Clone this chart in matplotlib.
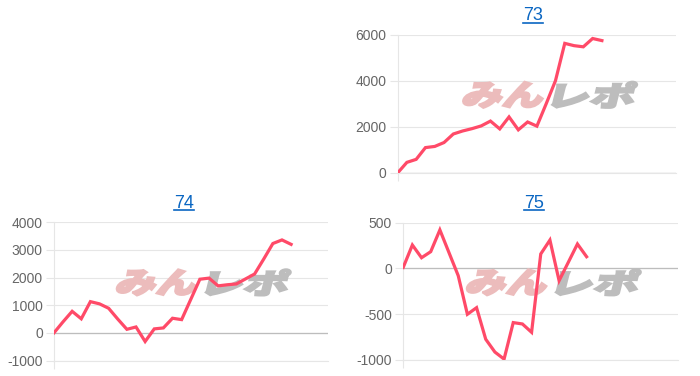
import matplotlib
matplotlib.use("Agg")
import matplotlib.pyplot as plt
from matplotlib.textpath import TextPath
from matplotlib.patches import PathPatch
from matplotlib.font_manager import FontProperties
from matplotlib.transforms import Affine2D, IdentityTransform
from matplotlib.lines import Line2D

# --- data ---
n_labels = 31
titles = ["73", "74", "75"]
diff_73 = [0, 460, 590, 1100, 1150, 1320, 1690, 1820, 1920, 2040, 2250, 1910,
           2430, 1870, 2210, 2030, 3000, 4000, 5620, 5520, 5470, 5830, 5740]
diff_74 = [0, 400, 780, 510, 1130, 1050, 890, 500, 130, 215, -310, 145, 180,
           530, 480, 1210, 1940, 1980, 1700, 1740, 1770, 1950, 2130, 2670,
           3230, 3360, 3200]
diff_75 = [10, 255, 116, 182, 420, 170, -80, -502, -430, -775, -915, -992,
           -593, -608, -699, 157, 309, -135, 65, 266, 127]
yticks_73 = [0, 2000, 4000, 6000]
yticks_74 = [-1000, 0, 1000, 2000, 3000, 4000]
yticks_75 = [-1000, -500, 0, 500]

line_color = "#ff4a68"
grid_color = "#e6e6e6"
label_color = "#666666"
font = "Liberation Sans"

fig = plt.figure(figsize=(7, 3.76), dpi=100)

# axes boxes (fig fraction) and title centres (pixels from top-left)
charts = [
    (titles[0], diff_73, yticks_73, [0.568, 0.540, 0.398, 0.368], (533, 16)),
    (titles[1], diff_74, yticks_74, [0.077, 0.041, 0.391, 0.368], (184, 203)),
    (titles[2], diff_75, yticks_75, [0.576, 0.043, 0.393, 0.365], (534, 203)),
]

wm_font = FontProperties(family="Noto Sans CJK JP", weight="heavy")


def watermark(ax):
    cx, cy = ax.transAxes.transform((0.545, 0.565))
    parts = [("みん", "#ecbcbc", -84, 79), ("レポ", "#bdbdbd", 6, 80)]
    for s, col, dx, w in parts:
        tp = TextPath((0, 0), s, size=30, prop=wm_font)
        bb = tp.get_extents()
        tr = (Affine2D().translate(-bb.x0, -bb.y0)
              .scale(w / bb.width, 26 / bb.height)
              .skew_deg(14, 0)
              .translate(cx + dx - 4, cy - 13))
        patch = PathPatch(tr.transform_path(tp), facecolor=col, edgecolor=col,
                          lw=1.6, transform=IdentityTransform(), zorder=1.5)
        ax.add_artist(patch)


title_texts = []
for name, vals, yt, box, tpos in charts:
    ax = fig.add_axes(box)
    ax.set_facecolor("none")
    ax.plot(range(len(vals)), vals, color=line_color, lw=2.3,
            solid_joinstyle="miter", zorder=3)
    ax.set_xlim(0, n_labels - 1)
    ax.set_ylim(yt[0], yt[-1])
    ax.set_yticks(yt)
    ax.set_yticklabels([str(v) for v in yt], fontsize=10, color=label_color,
                       family=font)
    ax.set_xticks([0])
    ax.set_xticklabels([""])
    ax.tick_params(axis="y", length=6, width=0.8, color=grid_color, pad=2)
    ax.tick_params(axis="x", length=6, width=0.8, color=grid_color)
    ax.grid(axis="y", color=grid_color, lw=0.8, zorder=0.5)
    ax.set_axisbelow(True)
    ax.axhline(0, color="#bdbdbd", lw=0.9, zorder=1)
    for side in ["top", "right"]:
        ax.spines[side].set_visible(False)
    ax.spines["left"].set_color(grid_color)
    ax.spines["left"].set_linewidth(0.8)
    ax.spines["bottom"].set_color(grid_color)
    ax.spines["bottom"].set_linewidth(0.8)
    watermark(ax)
    t = fig.text(tpos[0] / 700, 1 - tpos[1] / 376, name, ha="center", va="center",
                 fontsize=13, color="#0a66c2", family=font)
    title_texts.append(t)

# underline the link-style titles
fig.canvas.draw()
renderer = fig.canvas.get_renderer()
for t in title_texts:
    bb = t.get_window_extent(renderer)
    y = (bb.y0 + 1.5) / fig.bbox.height
    fig.add_artist(Line2D([bb.x0 / fig.bbox.width, bb.x1 / fig.bbox.width], [y, y],
                          color="#0a66c2", lw=1.2))

fig.savefig("out.png", dpi=100)
